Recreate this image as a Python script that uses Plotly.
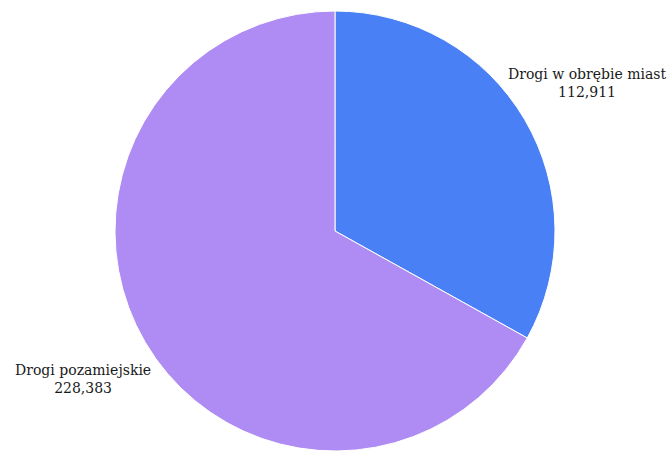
import math
import plotly.graph_objects as go

labels = ["Drogi w obrębie miast", "Drogi pozamiejskie"]
values = [112911, 228383]
colors = ["#4a80f6", "#ae8cf3"]

W, H = 672, 451
dom_x = [0, 670 / W]
dom_y = [0, 1 - 11 / H]

fig = go.Figure(go.Pie(
    labels=labels, values=values, sort=False, direction="clockwise", rotation=0,
    marker=dict(colors=colors, line=dict(color="white", width=1)),
    textinfo="none", hoverinfo="label+value", domain=dict(x=dom_x, y=dom_y),
    showlegend=False,
))

# label positions derived from slice mid-angles
cx = (dom_x[0] + dom_x[1]) / 2 * W
cy = (1 - (dom_y[0] + dom_y[1]) / 2) * H
r = min((dom_x[1] - dom_x[0]) * W, (dom_y[1] - dom_y[0]) * H) / 2
total = sum(values)
cum = 0
for lab, v in zip(labels, values):
    mid = (cum + v / 2) / total * 2 * math.pi
    cum += v
    d = 1.33 * r
    px = cx + d * math.sin(mid)
    py = cy - d * math.cos(mid)
    fig.add_annotation(
        x=px / W, y=1 - py / H, xref="paper", yref="paper",
        text=f"{lab}<br>{v:,}", showarrow=False, align="center",
        xanchor="center", yanchor="middle",
        font=dict(family="DejaVu Serif", size=14, color="#1a1a1a"),
    )

fig.update_layout(
    width=W, height=H, margin=dict(l=0, r=0, t=0, b=0),
    paper_bgcolor="white", plot_bgcolor="white",
)
fig.write_html(
    "out.html",
    config={"displayModeBar": False},
    post_script="document.body.style.margin='0';document.body.style.overflow='hidden';",
)
